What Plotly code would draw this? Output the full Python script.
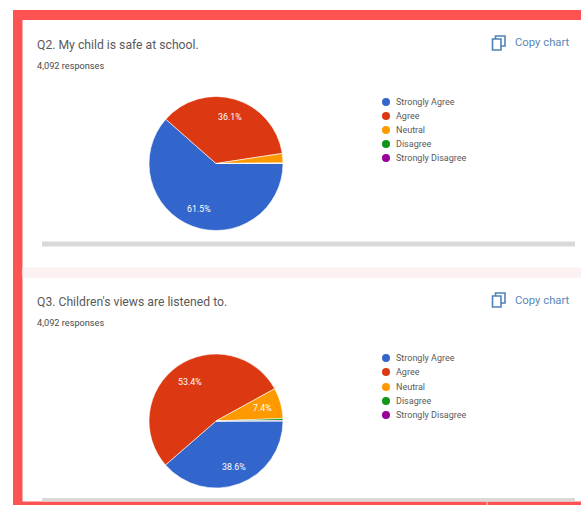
import plotly.graph_objects as go

W, H = 581, 505

categories = ["Strongly Agree", "Agree", "Neutral", "Disagree", "Strongly Disagree"]
colors = ["#3366cc", "#dc3912", "#ff9900", "#109618", "#990099"]

q2_title = "Q2. My child is safe at school."
q3_title = "Q3. Children's views are listened to."
responses = "4,092 responses"
q2_values = [61.5, 36.1, 2.3, 0.05, 0.05]
q3_values = [38.6, 53.4, 7.4, 0.5, 0.1]
q2_labels = ["61.5%", "36.1%"]
q3_labels = ["38.6%", "53.4%", "7.4%"]


def fx(px):
    return px / W


def fy(py):
    return 1 - py / H


shapes = []
annotations = []


def rect(x0, y0, x1, y1, fill, line=None, width=0, layer="below"):
    shapes.append(dict(type="rect", xref="paper", yref="paper", x0=fx(x0), x1=fx(x1),
                       y0=fy(y1), y1=fy(y0), fillcolor=fill, layer=layer,
                       line=dict(color=line or fill, width=width)))


def text(x, y, s, size, color, anchor="left"):
    annotations.append(dict(xref="paper", yref="paper", x=fx(x), y=fy(y), text=s, showarrow=False,
                            xanchor=anchor, yanchor="middle", align="left", borderpad=0,
                            font=dict(family="Roboto", size=size, color=color)))


# Frame
rect(13, 10, 581, 505, "#ff5252")
rect(22.5, 20, 581, 501.5, "#ffffff")
rect(22.5, 267.5, 581, 278, "#fbf1f1")
rect(486.6, 501.5, 487.6, 505, "#ffd9c9")

# Scrollbars
rect(42, 241.5, 575, 246.5, "#d9d9d9")
rect(42, 498, 575, 501.5, "#d9d9d9")


def panel(title, title_y, resp_y, copy_y, legend_ys):
    text(35.8, title_y, title, 12.2, "#5a5a5a")
    text(35.8, resp_y, responses, 9.2, "#4a4a4a")
    text(513.5, copy_y, "Copy chart", 11.3, "#5b87b5")
    # copy icon
    rect(495.5, copy_y - 7, 505, copy_y + 3, "#ffffff", "#4f82b8", 1.6, "above")
    rect(492.5, copy_y - 4, 501, copy_y + 7, "#ffffff", "#4f82b8", 1.6, "above")
    for name, col, ly in zip(categories, colors, legend_ys):
        shapes.append(dict(type="circle", xref="paper", yref="paper", x0=fx(382), x1=fx(390),
                           y0=fy(ly + 4), y1=fy(ly - 4), fillcolor=col, line=dict(width=0)))
        text(395, ly, name, 9, "#5a5a5a")


panel(q2_title, 45, 65, 43, [102, 116, 130, 144, 158])
panel(q3_title, 302, 322, 300, [358, 372, 387, 401, 415])

# Slice value labels, placed where the reference has them
for s, (lx, ly) in zip(q2_labels, [(199, 209), (230, 117)]):
    text(lx, ly, s, 8.8, "#ffffff", "center")
for s, (lx, ly) in zip(q3_labels, [(234, 467), (190, 382), (262, 408)]):
    text(lx, ly, s, 8.8, "#ffffff", "center")


def pie(values, cx, cy, r):
    return go.Pie(
        labels=categories, values=values, textinfo="none",
        marker=dict(colors=colors, line=dict(color="#ffffff", width=0.6)),
        sort=False, direction="clockwise", rotation=90, showlegend=False, hoverinfo="label+percent",
        domain=dict(x=[fx(cx - r), fx(cx + r)], y=[fy(cy + r), fy(cy - r)]),
    )


fig = go.Figure([pie(q2_values, 216, 163.5, 67),
                 pie(q3_values, 216, 421, 67)])
fig.update_layout(width=W, height=H, margin=dict(l=0, r=0, t=0, b=0), autosize=False,
                  paper_bgcolor="#ffffff", plot_bgcolor="#ffffff",
                  shapes=shapes, annotations=annotations)
fig.write_html("out.html", config=dict(displayModeBar=False),
               post_script="document.body.style.margin='0';")
